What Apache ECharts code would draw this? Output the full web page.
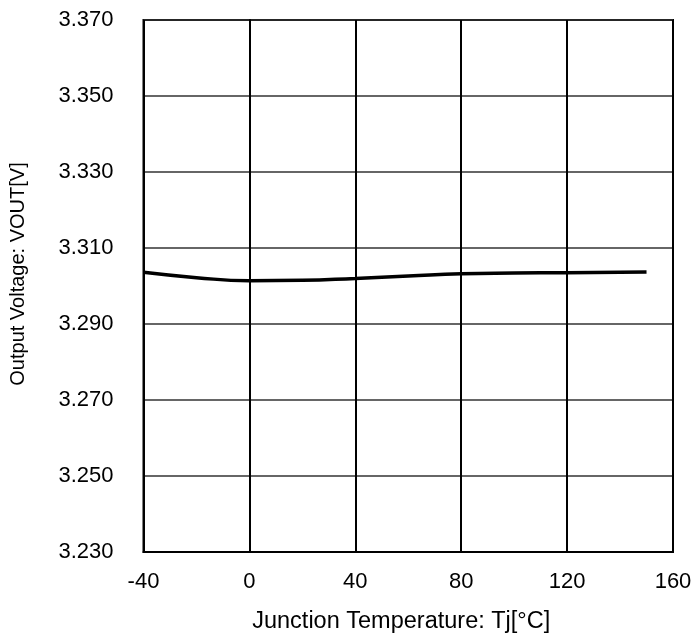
<!DOCTYPE html>
<html><head><meta charset="utf-8">
<script src="https://cdn.jsdelivr.net/npm/echarts@6/dist/echarts.min.js"></script>
<style>html,body{margin:0;padding:0;background:#fff}#c{width:697px;height:641px}</style>
</head><body><div id="c"></div>
<script>
const temps = [-40, -20, 0, 20, 40, 60, 80, 100, 120, 150];
const vout = [3.3036, 3.3022, 3.3014, 3.3015, 3.3020, 3.3026, 3.3032, 3.3034, 3.3035, 3.3037];
const xTicks = [-40, 0, 40, 80, 120, 160];
const yTicks = [3.230, 3.250, 3.270, 3.290, 3.310, 3.330, 3.350, 3.370];
const font = "'Liberation Sans', Arial, sans-serif";
const chart = echarts.init(document.getElementById('c'), null, {renderer: 'canvas'});
chart.setOption({
  animation: false,
  grid: {left: 143.5, right: 24, top: 20, bottom: 89, show: true, borderColor: '#000', borderWidth: 2},
  xAxis: {
    type: 'value', min: xTicks[0], max: xTicks[xTicks.length-1], interval: 40,
    name: 'Junction Temperature: Tj[°C]', nameLocation: 'middle', nameGap: 58,
    nameTextStyle: {fontFamily: font, fontSize: 23.5, color: '#000', padding: [0, 14, 0, 0]},
    axisLine: {show: true, lineStyle: {color: '#000', width: 2}},
    axisTick: {show: false},
    axisLabel: {fontFamily: font, fontSize: 22, color: '#000', margin: 19},
    splitLine: {show: true, lineStyle: {color: '#000', width: 2}}
  },
  yAxis: {
    type: 'value', min: yTicks[0], max: yTicks[yTicks.length-1], interval: 0.02,
    name: 'Output Voltage: VOUT[V]', nameLocation: 'middle', nameGap: 115,
    nameTextStyle: {fontFamily: font, fontSize: 20, color: '#000', padding: [0, 0, 0, 24]},
    axisLine: {show: true, lineStyle: {color: '#000', width: 2}},
    axisTick: {show: false},
    axisLabel: {fontFamily: font, fontSize: 22, color: '#000', margin: 30, formatter: v => v.toFixed(3)},
    splitLine: {show: true, lineStyle: {color: '#333', width: 1.5}}
  },
  series: [{
    type: 'line', data: temps.map((t,i)=>[t, vout[i]]), smooth: true, showSymbol: false,
    lineStyle: {color: '#000', width: 3.5}
  }]
});
</script></body></html>
